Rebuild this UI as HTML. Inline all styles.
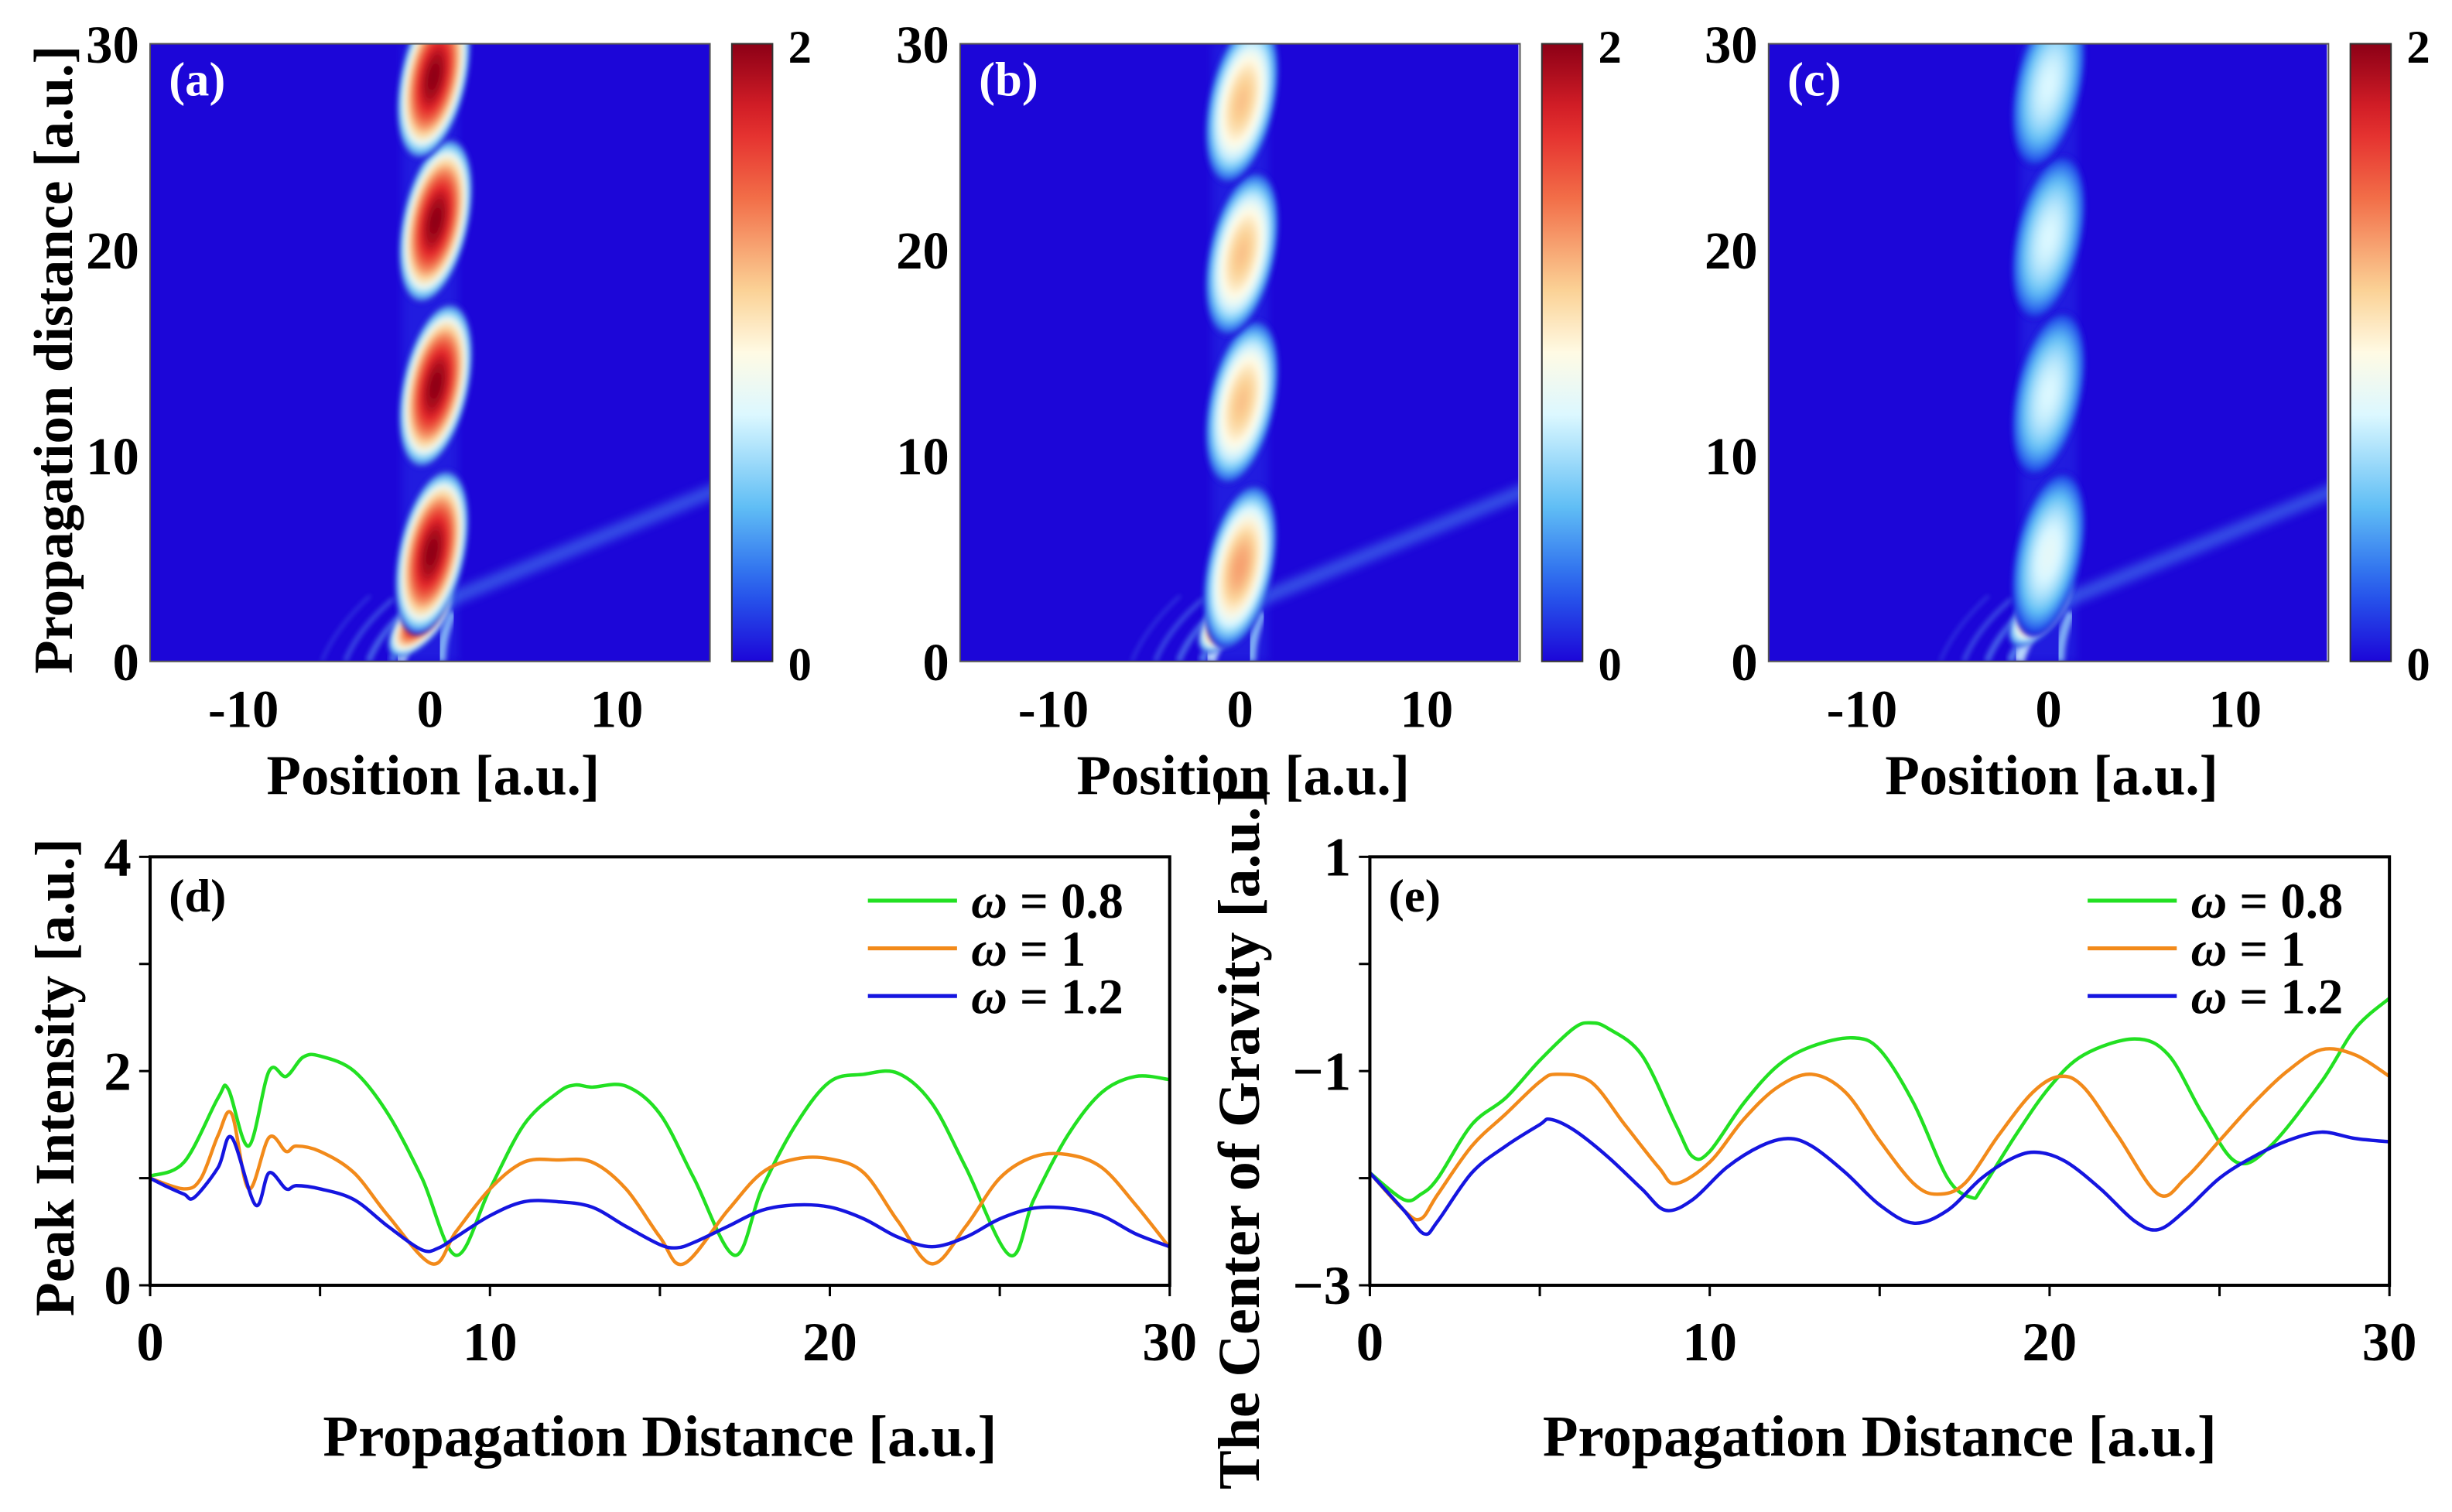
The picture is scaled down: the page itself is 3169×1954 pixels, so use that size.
<!DOCTYPE html>
<html><head><meta charset="utf-8"><style>
html,body{margin:0;padding:0;background:#fff;}
svg{display:block;font-family:"Liberation Serif",serif;font-weight:bold;}
</style></head><body>
<svg id="fig" width="3169" height="1954" viewBox="0 0 1568 967" preserveAspectRatio="none" xmlns="http://www.w3.org/2000/svg">
<defs id="defs">
<linearGradient id="cbgrad" x1="0" y1="1" x2="0" y2="0"></linearGradient>
<filter id="blur3"><feGaussianBlur stdDeviation="3"/></filter>
<filter id="blur2"><feGaussianBlur stdDeviation="1.6"/></filter>
<clipPath id="clipA"><rect x="96" y="28" width="358" height="395"/></clipPath>
<clipPath id="clipB"><rect x="614" y="28" width="357" height="395"/></clipPath>
<clipPath id="clipC"><rect x="1131" y="28" width="357" height="395"/></clipPath>
<clipPath id="clipD"><rect x="96" y="548" width="652" height="274"/></clipPath>
<clipPath id="clipE"><rect x="876" y="548" width="652" height="274"/></clipPath>
</defs>
<g id="root"></g>
</svg>
<script>
// ---------- heatmap data (blob centres along propagation, peak intensity) ----------
const blobZA = [2.0, 5.3, 13.4, 21.4, 28.4];
const blobXA = [-0.5, 0.1, 0.3, 0.3, 0.2];
const blobPeakA = [1.9, 2.0, 2.0, 2.0, 2.0];
const blobZB = [2.2, 4.6, 12.6, 19.8, 27.2];
const blobXB = [-0.5, 0.0, 0.1, 0.1, 0.1];
const blobPeakB = [2.0, 1.35, 1.25, 1.25, 1.25];
const blobZC = [2.5, 5.2, 13.0, 20.6, 28.0];
const blobXC = [-0.4, 0.0, 0.0, 0.0, 0.0];
const blobPeakC = [1.6, 0.85, 0.8, 0.8, 0.8];
const xTicksHeat = [-10, 0, 10];
const yTicksHeat = [0, 10, 20, 30];

// ---------- (d) peak intensity ----------
const dGreenX = [0,1,2,2.3,2.9,3.5,4,4.5,5,6,7,8,9,10,11,12,12.5,13,14,15,16,17.2,18,19,20,21,22,23,24,25.3,26,27,28,29,30];
const dGreenY = [1.02,1.15,1.75,1.83,1.3,2.0,1.95,2.13,2.14,2.0,1.6,1.0,0.28,0.9,1.5,1.8,1.87,1.85,1.86,1.6,1.0,0.28,0.9,1.5,1.9,1.97,1.98,1.7,1.1,0.28,0.8,1.4,1.8,1.95,1.92];
const dOrangeX = [0,1,1.5,2,2.4,2.9,3.5,4,4.3,5,6,7,8.3,9,10,11,12,13,14,15,15.7,17,18,19,20,21,22,23,24,25,26,27,28,29,30];
const dOrangeY = [1.0,0.9,1.0,1.4,1.6,0.9,1.38,1.25,1.3,1.25,1.05,0.65,0.2,0.5,0.9,1.15,1.17,1.15,0.9,0.45,0.2,0.7,1.05,1.18,1.18,1.05,0.6,0.2,0.55,1.0,1.2,1.22,1.1,0.75,0.35];
const dBlueX = [0,0.5,1,1.3,2,2.4,3.1,3.5,4,4.3,5,6,7,8,8.5,9,10,11,12,13,14,15,15.5,16,17,18,19,20,21,22,23,24,25,26,27,28,29,30];
const dBlueY = [1.0,0.92,0.85,0.82,1.1,1.38,0.75,1.05,0.9,0.93,0.9,0.8,0.55,0.33,0.35,0.45,0.65,0.78,0.78,0.73,0.55,0.38,0.35,0.4,0.55,0.7,0.75,0.73,0.62,0.45,0.36,0.45,0.62,0.72,0.72,0.65,0.48,0.36];
// ---------- (e) centre of gravity ----------
const eGreenX = [0,1,1.5,2,3,4,5,6,6.5,7,8,9,9.5,10,11,12,13,14.2,15,16,17,17.7,18,19,20,21,22.5,23.5,24.5,25.5,26.5,28,29,30];
const eGreenY = [-1.95,-2.2,-2.15,-2.0,-1.5,-1.25,-0.9,-0.6,-0.55,-0.6,-0.85,-1.5,-1.8,-1.75,-1.3,-0.95,-0.77,-0.69,-0.8,-1.3,-2.0,-2.18,-2.1,-1.6,-1.15,-0.85,-0.7,-0.85,-1.4,-1.85,-1.7,-1.1,-0.6,-0.32];
const eOrangeX = [0,1,1.5,2,3,4,5,5.5,6.5,7.5,8.5,9,10,11,12,13,14,15,16,16.7,17.5,18.5,19.5,20.3,21,22,23.2,24,25,26,27,28,29,30];
const eOrangeY = [-1.95,-2.3,-2.38,-2.15,-1.7,-1.4,-1.1,-1.03,-1.1,-1.5,-1.9,-2.05,-1.85,-1.45,-1.15,-1.03,-1.2,-1.65,-2.05,-2.15,-2.05,-1.6,-1.2,-1.05,-1.15,-1.6,-2.15,-2.0,-1.65,-1.3,-1.0,-0.8,-0.85,-1.05];
const eBlueX = [0,1,1.6,2,3,4,5,5.3,6,7,8,8.7,9.5,10.5,11.5,12.3,13,14,15,16,17,18,19,19.7,20.5,21.5,22.5,23.2,24,25,26,27,28,29,30];
const eBlueY = [-1.95,-2.3,-2.52,-2.4,-1.95,-1.7,-1.5,-1.45,-1.55,-1.8,-2.1,-2.3,-2.2,-1.9,-1.7,-1.63,-1.7,-1.95,-2.25,-2.42,-2.3,-2.0,-1.8,-1.76,-1.85,-2.1,-2.4,-2.48,-2.3,-2.0,-1.8,-1.65,-1.57,-1.63,-1.66];
const lineXTicks = [0,10,20,30];
const dYTicks = [0,2,4];
const eYTicks = [1,-1,-3];

const NS = "http://www.w3.org/2000/svg";
const root = document.getElementById('root');
const defs = document.getElementById('defs');
function mk(tag, attrs, parent, text){
  const e = document.createElementNS(NS, tag);
  for (const k in attrs) e.setAttribute(k, attrs[k]);
  if (text !== undefined) e.textContent = text;
  (parent||root).appendChild(e);
  return e;
}
const cstops = [[0,[28,6,216]],[0.25,[40,100,238]],[0.5,[96,190,245]],[0.8,[220,248,255]],[1.0,[255,250,228]],[1.2,[251,210,150]],[1.5,[242,110,72]],[1.75,[226,36,42]],[2.0,[140,0,22]]];
function cmap(v){
  v = Math.max(0, Math.min(2, v));
  for (let i=1;i<cstops.length;i++){
    if (v <= cstops[i][0]){
      const a=cstops[i-1], b=cstops[i], t=(v-a[0])/(b[0]-a[0]);
      return 'rgb('+a[1].map((c,j)=>Math.round(c+(b[1][j]-c)*t)).join(',')+')';
    }
  }
  return 'rgb(140,0,22)';
}
const cbg = document.getElementById('cbgrad');
for (let i=0;i<=20;i++){ mk('stop',{offset:(i/20), 'stop-color':cmap(i/10)}, cbg); }

let gid = 0;
function heatPanel(x0, clip, label, bz, bx, bp, name){
  const w = 358, y0 = 28, h = 395;
  const hx = v => x0 + (v+15)/30*w;
  const hy = z => y0 + h - z/30*h;
  const g = mk('g',{'clip-path':'url(#'+clip+')'});
  
  
  mk('rect',{x:x0,y:y0,width:w,height:h,fill:'rgb(28,6,216)'},g);
  mk('rect',{x:hx(-1.5),y:y0,width:hx(1.5)-hx(-1.5),height:h,fill:'rgb(40,50,230)',filter:'url(#blur3)',opacity:0.5},g);
  const tail = mk('line',{x1:hx(0.5),y1:hy(2.8),x2:hx(15.5),y2:hy(8.4),stroke:'rgb(80,150,245)','stroke-width':9,opacity:0.5,filter:'url(#blur3)'},g);
  
  
  for (let k=1;k<=4;k++){
    const xs = -0.8 - k*1.25;
    const fr = mk('path',{d:'M'+hx(xs)+','+hy(0)+' Q'+hx(xs+0.7)+','+hy(1.6)+' '+hx(xs+2.6)+','+hy(2.6+k*0.15),fill:'none',stroke:'rgb(110,185,250)','stroke-width':6-k,opacity:0.75-k*0.12,filter:'url(#blur2)'},g);
    
    
  }
  mk('path',{d:'M'+hx(0.6)+','+hy(0)+' Q'+hx(0.6)+','+hy(1.2)+' '+hx(1.2)+','+hy(2.4),fill:'none',stroke:'rgb(150,210,250)','stroke-width':6,opacity:0.8,filter:'url(#blur2)'},g);
  mk('path',{d:'M'+hx(-1.6)+','+hy(0)+' Q'+hx(-1.3)+','+hy(1)+' '+hx(-0.3)+','+hy(2.4),fill:'none',stroke:'rgb(200,235,255)','stroke-width':7,opacity:0.9,filter:'url(#blur2)'},g);
  for (let i=0;i<bz.length;i++){
    const id = 'bg'+(gid++);
    const rg = mk('radialGradient',{id:id},defs);
    for (let k=0;k<=10;k++){
      const t=k/10, v=bp[i]*Math.pow(1-t*t,0.8);
      mk('stop',{offset:t,'stop-color':k===10?'rgb(28,6,216)':cmap(v)},rg);
    }
    const first = i===0;
    const cx = hx(bx[i]), cy = hy(bz[i]);
    const rx = first?1.1*11.93:1.8*11.93, ry = first?2.2*13.17:4.1*13.17;
    const el = mk('ellipse',{cx:cx,cy:cy,rx:rx,ry:ry,fill:'url(#'+id+')',filter:'url(#blur2)',transform:'rotate('+(first?40:12)+' '+cx+' '+cy+')'},g);
    
    
  }
  mk('rect',{x:x0,y:y0,width:w,height:h,fill:'none',stroke:'#555','stroke-width':1});
  const lb = mk('text',{x:x0+12,y:y0+33,fill:'#fff','font-size':31},root,label);
  
  
  for (const t of xTicksHeat){
    const tt = mk('text',{x:hx(t),y:465,'text-anchor':'middle','font-size':34},root,String(t));
    
    
  }
  for (const t of yTicksHeat){
    const tt = mk('text',{x:x0-7,y:hy(t)+12,'text-anchor':'end','font-size':34},root,String(t));
    
    
  }
  const xt = mk('text',{x:x0+181,y:508,'text-anchor':'middle','font-size':36},root,'Position [a.u.]');
  
  
  const cbx = x0+372;
  const cb = mk('rect',{x:cbx,y:y0,width:26,height:h,fill:'url(#cbgrad)',stroke:'#333','stroke-width':1});
  
  
  const c2 = mk('text',{x:cbx+36,y:y0+12,'font-size':30},root,'2');
  
  
  const c0 = mk('text',{x:cbx+36,y:y0+h+12,'font-size':30},root,'0');
  
  
}
heatPanel(96,'clipA','(a)',blobZA,blobXA,blobPeakA,'panel-a');
heatPanel(614,'clipB','(b)',blobZB,blobXB,blobPeakB,'panel-b');
heatPanel(1131,'clipC','(c)',blobZC,blobXC,blobPeakC,'panel-c');
const yt = mk('text',{x:0,y:0,'text-anchor':'middle','font-size':35,transform:'translate(46,230) rotate(-90)'},root,'Propagation distance [a.u.]');



function crPath(pts){
  let d='M'+pts[0][0].toFixed(2)+','+pts[0][1].toFixed(2);
  for (let i=0;i<pts.length-1;i++){
    const p0=pts[Math.max(0,i-1)],p1=pts[i],p2=pts[i+1],p3=pts[Math.min(pts.length-1,i+2)];
    const c1=[p1[0]+(p2[0]-p0[0])/6,p1[1]+(p2[1]-p0[1])/6];
    const c2=[p2[0]-(p3[0]-p1[0])/6,p2[1]-(p3[1]-p1[1])/6];
    d+=' C'+c1[0].toFixed(2)+','+c1[1].toFixed(2)+' '+c2[0].toFixed(2)+','+c2[1].toFixed(2)+' '+p2[0].toFixed(2)+','+p2[1].toFixed(2);
  }
  return d;
}
function linePanel(x0, clip, label, ymin, ymax, yticks, series, ytitle, ytx, yty, ytsize, name){
  const w=652, y0=548, h=274;
  const sx = v => x0 + v/30*w;
  const sy = v => y0 + h - (v-ymin)/(ymax-ymin)*h;
  const g = mk('g',{'clip-path':'url(#'+clip+')'});
  for (const s of series){
    const p = mk('path',{d:crPath(s.x.map((v,i)=>[sx(v),sy(s.y[i])])),fill:'none',stroke:s.c,'stroke-width':2.2},g);
    
    
  }
  const fr = mk('rect',{x:x0,y:y0,width:w,height:h,fill:'none',stroke:'#000','stroke-width':2});
  
  
  for (let t=0;t<=30;t+=5){
    mk('line',{x1:sx(t),y1:y0+h,x2:sx(t),y2:y0+h+7,stroke:'#000','stroke-width':1.5});
  }
  for (const t of lineXTicks){
    const tt = mk('text',{x:sx(t),y:870,'text-anchor':'middle','font-size':35},root,String(t));
    
    
  }
  const step=(ymax-ymin)/4;
  for (let k=0;k<=4;k++){
    const v=ymin+k*step;
    mk('line',{x1:x0-7,y1:sy(v),x2:x0,y2:sy(v),stroke:'#000','stroke-width':1.5});
  }
  for (const t of yticks){
    const tt = mk('text',{x:x0-12,y:sy(t)+12,'text-anchor':'end','font-size':35},root,(t<0?'\u2212'+(-t):String(t)));
    
    
  }
  const xt = mk('text',{x:x0+326,y:931,'text-anchor':'middle','font-size':37},root,'Propagation Distance [a.u.]');
  
  
  const ytl = mk('text',{x:0,y:0,'text-anchor':'middle','font-size':ytsize,transform:'translate('+ytx+','+yty+') rotate(-90)'},root,ytitle);
  
  
  const lb = mk('text',{x:x0+12,y:y0+35,'font-size':30},root,label);
  
  
  const lx = x0+459;
  series.forEach((s,i)=>{
    const ly = 576+i*30.5;
    const lg = mk('g',{});
    
    
    mk('line',{x1:lx,y1:ly,x2:lx+57,y2:ly,stroke:s.c,'stroke-width':2.5},lg);
    const tx = mk('text',{x:lx+66,y:ly+11,'font-size':32},lg);
    mk('tspan',{'font-style':'italic'},tx,'\u03c9');
    mk('tspan',{},tx,' = '+s.l);
  });
}
linePanel(96,'clipD','(d)',0,4,dYTicks,[
  {x:dGreenX,y:dGreenY,c:'#22e022',n:'line-omega-0.8',l:'0.8'},
  {x:dOrangeX,y:dOrangeY,c:'#f28a1a',n:'line-omega-1',l:'1'},
  {x:dBlueX,y:dBlueY,c:'#1515e0',n:'line-omega-1.2',l:'1.2'}],
  'Peak Intensity [a.u.]',47,689,35.5,'panel-d');
linePanel(876,'clipE','(e)',-3,1,eYTicks,[
  {x:eGreenX,y:eGreenY,c:'#22e022',n:'line-omega-0.8',l:'0.8'},
  {x:eOrangeX,y:eOrangeY,c:'#f28a1a',n:'line-omega-1',l:'1'},
  {x:eBlueX,y:eBlueY,c:'#1515e0',n:'line-omega-1.2',l:'1.2'}],
  'The Center of Gravity [a.u.]',805,728,37.5,'panel-e');
</script>
</body></html>
